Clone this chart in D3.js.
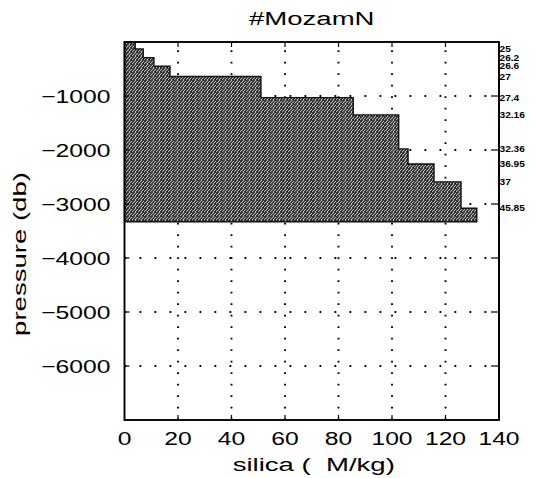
<!DOCTYPE html>
<html>
<head>
<meta charset="utf-8">
<script src="https://cdn.jsdelivr.net/npm/d3@7"></script>
<style>
  html, body { margin: 0; padding: 0; background: #fff; }
  svg { display: block; }
  text { font-family: "Liberation Sans", Arial, Helvetica, sans-serif; fill: #000; white-space: pre; }
</style>
</head>
<body>
<svg id="chart" width="537" height="478"></svg>
<script>
// Layer tops (pressure, db) and the silica value of each layer
const layerTops = [0, -130, -290, -450, -640, -1030, -1350, -1980, -2260, -2590, -3080];
const layerBottom = -3330;
const layerSilica = [4, 7, 11, 17, 51, 85.5, 102.5, 106, 115.7, 125.8, 131.7];

// Density labels along the right edge, at the layer boundaries
const densityLabels = ["25", "26.2", "26.6", "27", "27.4", "32.16", "32.36", "36.95", "37", "45.85"];
const densityPressures = [-130, -290, -450, -640, -1030, -1350, -1980, -2260, -2590, -3080];

const xTicks = [0, 20, 40, 60, 80, 100, 120, 140];
const yTicks = [-1000, -2000, -3000, -4000, -5000, -6000];

const svg = d3.select("#chart");
const pL = 124.5, pR = 499, pT = 42, pB = 420;
const x = d3.scaleLinear().domain([0, 140]).range([pL, pR]);
const y = d3.scaleLinear().domain([-7000, 0]).range([pB, pT]);
const SX = 1.3;   // wide lettering for tick labels
const SXT = 1.45; // wide lettering for titles

// grainy fill pattern
const defs = svg.append("defs");
const pat = defs.append("pattern").attr("id", "grain")
  .attr("patternUnits", "userSpaceOnUse").attr("width", 6).attr("height", 4);
pat.append("rect").attr("width", 6).attr("height", 4).attr("fill", "#3a3a3a");
pat.append("path").attr("d", "M0,4 L4,0 M3,4 L7,0").attr("stroke", "#e2e2e2").attr("stroke-width", 0.8);
pat.append("rect").attr("x", 5).attr("y", 3).attr("width", 1).attr("height", 1).attr("fill", "#111");

// dotted grid
const grid = svg.append("g");
grid.selectAll("line.v").data(xTicks.filter(d => d > 0 && d < 140)).join("line")
  .attr("x1", d => x(d)).attr("x2", d => x(d))
  .attr("y1", pB).attr("y2", pT)
  .attr("stroke", "#000").attr("stroke-width", 1.9)
  .attr("stroke-dasharray", "1.8 9.7");
grid.selectAll("line.h").data(yTicks).join("line")
  .attr("x1", pL).attr("x2", pR)
  .attr("y1", d => y(d)).attr("y2", d => y(d))
  .attr("stroke", "#000").attr("stroke-width", 1.9)
  .attr("stroke-dasharray", "1.8 13.2");

// stepped silica profile
const pts = layerTops.map((p, i) => ({ p: p, s: layerSilica[i] }));
pts.push({ p: layerBottom, s: layerSilica[layerSilica.length - 1] });
const area = d3.area()
  .y(d => y(d.p))
  .x0(x(0))
  .x1(d => x(d.s))
  .curve(d3.curveStepBefore);
svg.append("path").datum(pts)
  .attr("d", area)
  .attr("fill", "url(#grain)")
  .attr("stroke", "#111").attr("stroke-width", 1.4);

// axes frame with inward ticks
const ax = svg.append("g");
ax.append("rect").attr("x", pL).attr("y", pT)
  .attr("width", pR - pL).attr("height", pB - pT)
  .attr("fill", "none").attr("stroke", "#000").attr("stroke-width", 1.9);
const tl = 5;
xTicks.filter(d => d > 0 && d < 140).forEach(d => {
  ax.append("line").attr("x1", x(d)).attr("x2", x(d)).attr("y1", pB).attr("y2", pB - tl).attr("stroke", "#000").attr("stroke-width", 1.2);
  ax.append("line").attr("x1", x(d)).attr("x2", x(d)).attr("y1", pT).attr("y2", pT + tl).attr("stroke", "#000").attr("stroke-width", 1.2);
});
yTicks.forEach(d => {
  ax.append("line").attr("x1", pL).attr("x2", pL + tl).attr("y1", y(d)).attr("y2", y(d)).attr("stroke", "#000").attr("stroke-width", 1.2);
  ax.append("line").attr("x1", pR).attr("x2", pR - 8).attr("y1", y(d)).attr("y2", y(d)).attr("stroke", "#000").attr("stroke-width", 1.2);
});

// tick labels
const fmt = d3.format("d");
ax.selectAll("text.xt").data(xTicks).join("text")
  .attr("transform", d => `translate(${x(d)},${pB + 25}) scale(${SX},1)`)
  .attr("text-anchor", "middle").attr("font-size", 19)
  .text(d => fmt(d));
ax.selectAll("text.yt").data(yTicks).join("text")
  .attr("transform", d => `translate(${pL - 14},${y(d) + 7}) scale(${SX},1)`)
  .attr("text-anchor", "end").attr("font-size", 19)
  .text(d => fmt(d));

// density labels on the right
svg.selectAll("text.dl").data(densityLabels).join("text")
  .attr("transform", (d, i) => `translate(${pR + 0.5},${y(densityPressures[i]) + 3}) scale(1.18,1)`)
  .attr("font-size", 8.6).attr("font-weight", "bold")
  .text(d => d);
// redraw right spine over the labels
svg.append("line").attr("x1", pR).attr("x2", pR).attr("y1", pT).attr("y2", pB)
  .attr("stroke", "#000").attr("stroke-width", 1.9);

// titles
svg.append("text")
  .attr("transform", `translate(${(pL + pR) / 2},${25}) scale(${SXT},1)`)
  .attr("text-anchor", "middle").attr("font-size", 19)
  .text("#MozamN");
svg.append("text")
  .attr("transform", `translate(${(pL + pR) / 2 + 2},${471}) scale(${SXT},1)`)
  .attr("text-anchor", "middle").attr("font-size", 19)
  .text("silica (  M/kg)");
svg.append("text")
  .attr("transform", `translate(${26},${254}) rotate(-90) scale(${SXT},1)`)
  .attr("text-anchor", "middle").attr("font-size", 19)
  .text("pressure (db)");
</script>
</body>
</html>
